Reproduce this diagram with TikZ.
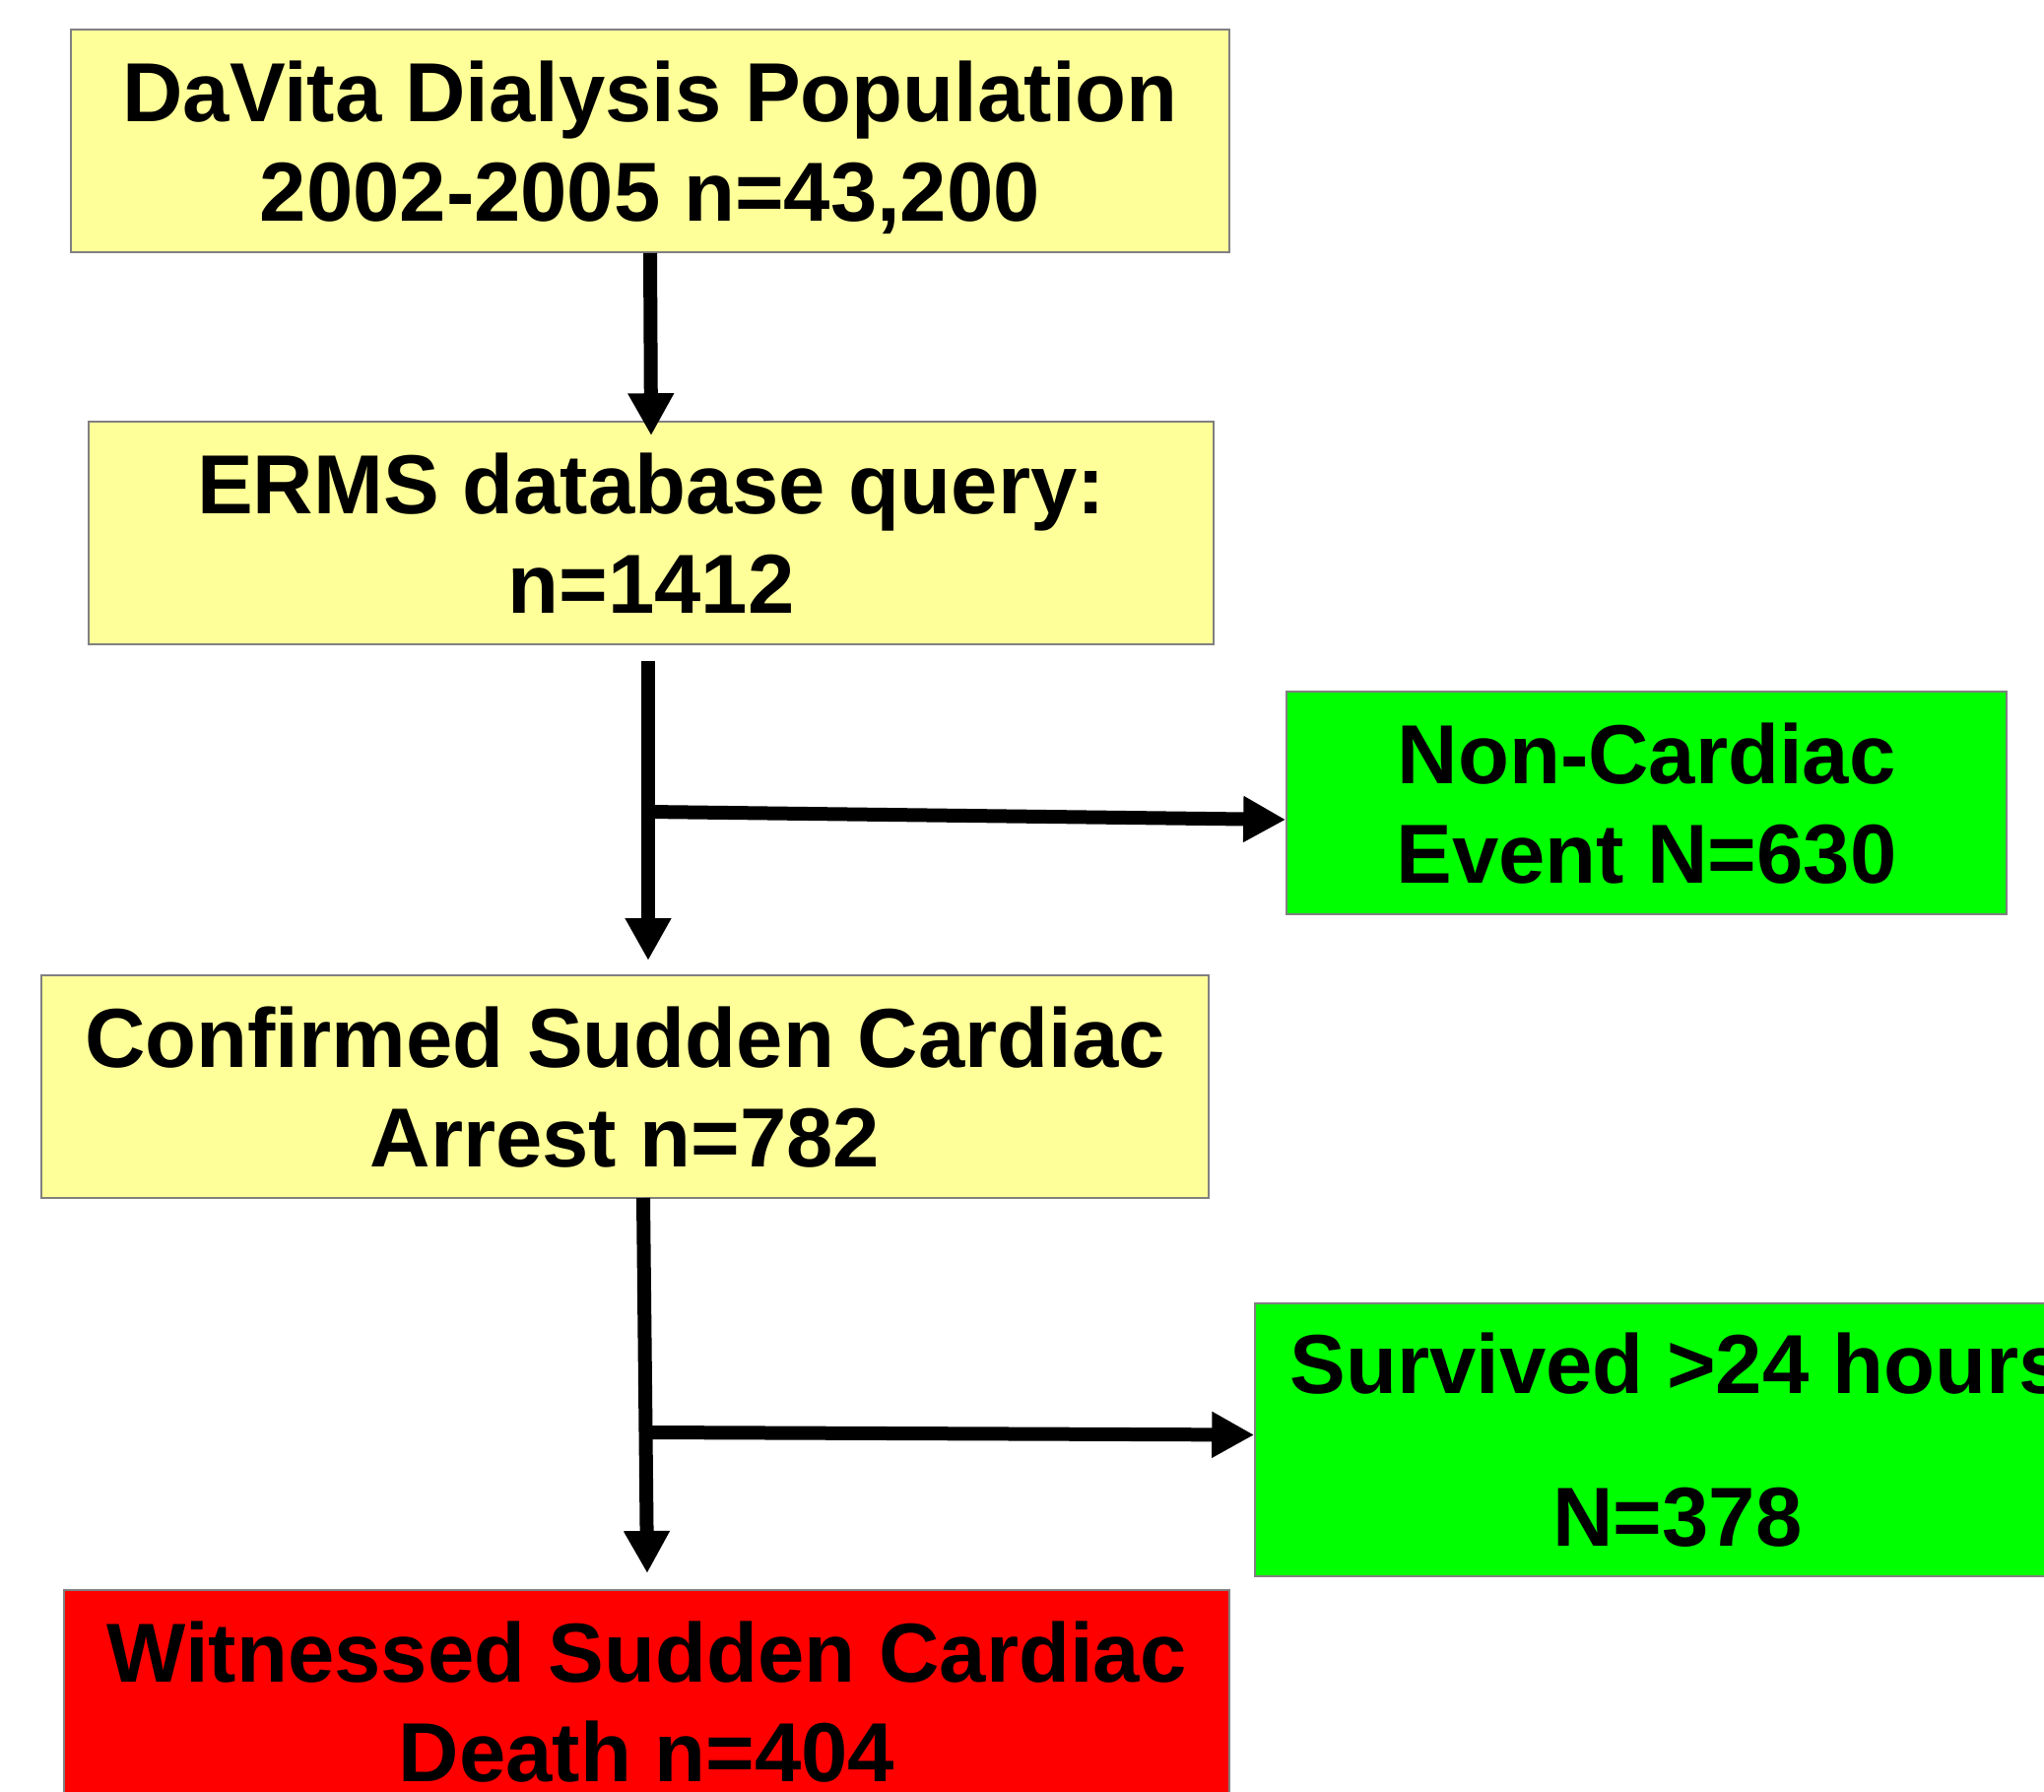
\documentclass[tikz,border=0pt]{standalone}
\usepackage{fontspec}
\setmainfont{Liberation Sans}
\usepackage{tikz}
\usetikzlibrary{arrows.meta}
\definecolor{paleyellow}{RGB}{255, 255, 153}
\definecolor{brightgreen}{RGB}{0, 255, 0}
\definecolor{brightred}{RGB}{255, 0, 0}
\definecolor{boxline}{RGB}{128, 128, 128}

\tikzset{
  box/.style={draw=boxline, line width=0.45pt, minimum height=2.26cm, inner sep=0pt,
    text depth=0pt, align=center, font=\bfseries\fontsize{24.2}{28.7}\selectfont},
  arr/.style={line width=0.14cm, -{Triangle[width=0.44cm,length=0.43cm]}}
}

\begin{document}
\begin{tikzpicture}
        \useasboundingbox (0,0) rectangle (20.75,-18.19);
        \clip (0,0) rectangle (20.75,-18.19);
        \node [box, fill=paleyellow, minimum width=11.76cm] (pop) at (6.60,-1.43) {DaVita Dialysis Population\\2002-2005 n=43,200};
        \node [box, fill=paleyellow, minimum width=11.42cm] (ermsq) at (6.61,-5.41) {ERMS database query:\\n=1412};
        \node [box, fill=brightgreen, minimum width=7.31cm] (noncard) at (16.715,-8.15) {Non-Cardiac\\Event N=630};
        \node [box, fill=paleyellow, minimum width=11.85cm] (scarrest) at (6.345,-11.03) {Confirmed Sudden Cardiac\\Arrest n=782};
        \node [box, fill=brightgreen, minimum width=8.58cm, minimum height=2.77cm,
          font=\bfseries\fontsize{24.2}{44.1}\selectfont] (surv) at (17.03,-14.615) {Survived >24 hours\\N=378};
        \node [box, fill=brightred, minimum width=11.83cm] (scdeath) at (6.565,-17.27) {Witnessed Sudden Cardiac\\Death n=404};
        \coordinate (s2) at (6.58,-6.71);
        \coordinate (j2) at (6.58,-8.24);
        \coordinate (e2) at (6.58,-9.75);
        \coordinate (s3) at (6.53,-12.16);
        \coordinate (j3) at (6.55,-14.54);
        \coordinate (e3) at (6.57,-15.97);
        \draw [arr] (pop.south) -- ([yshift=-0.15cm]ermsq.north);
        \draw [arr] (s2) -- (e2);
        \draw [arr] (j2) -- ([yshift=-0.17cm]noncard.west);
        \draw [arr] (s3) -- (e3);
        \draw [arr] (j3) -- ([yshift=0.05cm]surv.west);
      \end{tikzpicture}
\end{document}
